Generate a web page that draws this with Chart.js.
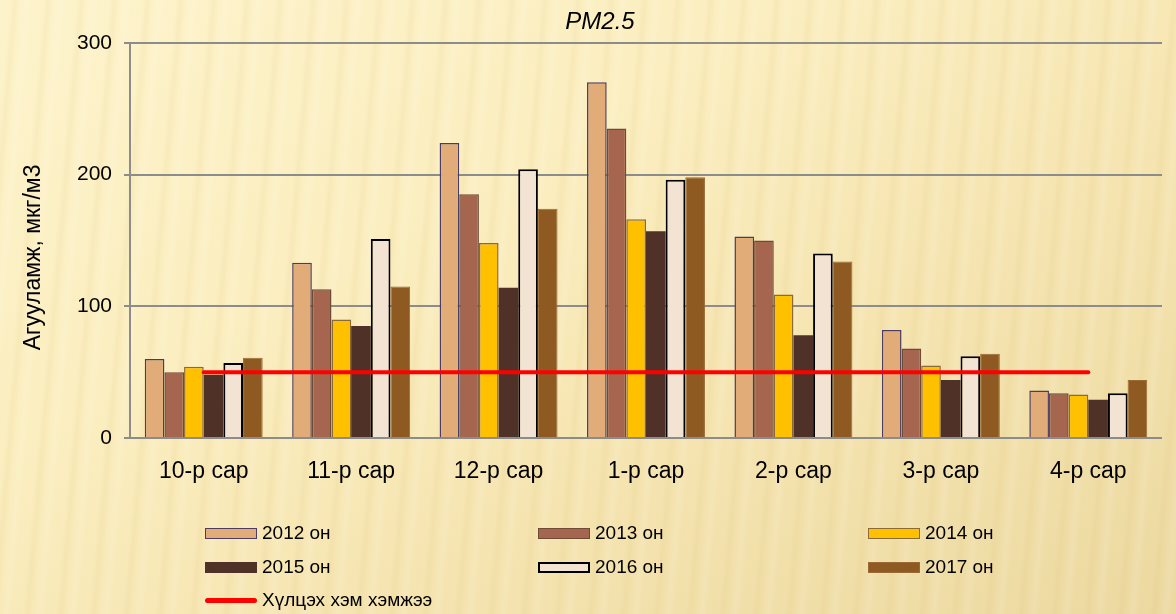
<!DOCTYPE html>
<html>
<head>
<meta charset="utf-8">
<script src="https://cdn.jsdelivr.net/npm/chart.js@4/dist/chart.umd.min.js"></script>
<style>
  html, body { margin: 0; padding: 0; }
  body {
    width: 1176px; height: 614px; overflow: hidden; position: relative;
    font-family: "Liberation Sans", Arial, sans-serif;
    background:
      repeating-linear-gradient(95deg, rgba(255,255,255,0) 0px, rgba(255,255,255,0) 10px, rgba(214,180,100,0.10) 15px, rgba(255,255,255,0) 21px, rgba(255,255,255,0.12) 27px, rgba(255,255,255,0) 33px),
      linear-gradient(150deg, #FDF3CB 0%, #FBEEC0 35%, #F5E4B0 65%, #ECD9A1 100%);
  }
  #wrap { position: absolute; left: 0; top: 0; width: 1176px; height: 614px; }
  #legend { position: absolute; left: 0; top: 0; width: 1176px; height: 614px; pointer-events: none; }
  .item { position: absolute; display: flex; align-items: center; height: 24px; font-size: 19px; color: #000; white-space: nowrap; }
  .sw { width: 52px; height: 11px; box-sizing: border-box; margin-right: 5px; }
  .ln { width: 52px; height: 5px; border-radius: 3px; margin-right: 5px; }
</style>
</head>
<body>
<div id="wrap"><canvas id="c" width="1176" height="614"></canvas></div>
<div id="legend"></div>
<script>
// Monthly PM2.5 concentration by season year, with the permitted limit
const months = ['10-р сар', '11-р сар', '12-р сар', '1-р сар', '2-р сар', '3-р сар', '4-р сар'];
const yearNames = ['2012 он', '2013 он', '2014 он', '2015 он', '2016 он', '2017 он'];
const y2012 = [60, 133, 224, 270, 153, 82, 36];
const y2013 = [50, 113, 185, 235, 150, 68, 34];
const y2014 = [54, 90, 148, 166, 109, 55, 33];
const y2015 = [48, 85, 114, 157, 78, 44, 29];
const y2016 = [57, 151, 204, 196, 140, 62, 34];
const y2017 = [61, 115, 174, 198, 134, 64, 44];
const limitName = 'Хүлцэх хэм хэмжээ';
const limitValues = [50, 50, 50, 50, 50, 50, 50];
const yTicks = [0, 100, 200, 300];

const fills = ['#E2AC78', '#A5654F', '#FFC000', '#4F3127', '#F3E3D3', '#8E5A22'];
const edges = ['#4A3C62', '#6E4B36', '#8A6A38', '#4F3127', '#000000', '#9A6A34'];
const edgeWidths = [1.5, 1.5, 1.5, 0, 2, 1];
const series = [y2012, y2013, y2014, y2015, y2016, y2017];

const datasets = series.map((vals, i) => ({
  type: 'bar',
  label: yearNames[i],
  data: vals,
  backgroundColor: fills[i],
  borderColor: edges[i],
  borderWidth: edgeWidths[i],
  categoryPercentage: 0.8,
  barPercentage: 1.0,
  order: 1
}));
datasets.push({
  type: 'line',
  label: limitName,
  data: limitValues,
  borderColor: '#FF0000',
  borderWidth: 4,
  borderCapStyle: 'round',
  pointRadius: 0,
  fill: false,
  order: 0
});

const font = '"Liberation Sans", Arial, sans-serif';

// Rotated value-axis caption
const axisCaption = {
  id: 'axisCaption',
  afterDraw(chart) {
    const { ctx, chartArea } = chart;
    ctx.save();
    ctx.translate(34, (chartArea.top + chartArea.bottom) / 2 + 17);
    ctx.rotate(-Math.PI / 2);
    ctx.font = '23px ' + font;
    ctx.fillStyle = '#000';
    ctx.textAlign = 'center';
    ctx.textBaseline = 'middle';
    ctx.fillText('Агууламж, мкг/м3', 0, 0);
    ctx.restore();
  }
};

const chart = new Chart(document.getElementById('c'), {
  data: { labels: months, datasets },
  options: {
    responsive: false,
    animation: false,
    layout: { padding: { left: 38, right: 14, top: 0, bottom: 116 } },
    plugins: {
      legend: { display: false },
      tooltip: { enabled: false },
      title: {
        display: true,
        text: 'PM2.5',
        color: '#000',
        font: { family: font, size: 24, style: 'italic', weight: 'normal', lineHeight: 1.2 },
        padding: { top: 8, bottom: 6 }
      }
    },
    scales: {
      x: {
        offset: true,
        grid: { display: false },
        border: { display: false },
        ticks: { color: '#000', font: { family: font, size: 23 }, padding: 12, maxRotation: 0 },
        afterFit(scale) { scale.height = 60; }
      },
      y: {
        min: 0,
        max: 300,
        afterBuildTicks(scale) { scale.ticks = yTicks.map(v => ({ value: v })); },
        grid: { color: '#8C8C8C', lineWidth: 2, tickLength: 6, drawTicks: true },
        border: { display: true, color: '#8C8C8C', width: 2 },
        ticks: { color: '#000', font: { family: font, size: 21 }, padding: 12 },
        afterFit(scale) { scale.width = 92; }
      }
    }
  },
  plugins: [axisCaption]
});

// Legend laid out in three columns beneath the plot
const legendEl = document.getElementById('legend');
const colX = [205, 538, 868];
const rowY = [521, 555, 588];
chart.data.datasets.forEach((ds, i) => {
  const item = document.createElement('div');
  item.className = 'item';
  item.style.left = colX[i % 3] + 'px';
  item.style.top = rowY[Math.floor(i / 3)] + 'px';
  const sw = document.createElement('div');
  if (ds.type === 'line') {
    sw.className = 'ln';
    sw.style.background = ds.borderColor;
  } else {
    sw.className = 'sw';
    sw.style.background = ds.backgroundColor;
    sw.style.border = (ds.borderWidth ? Math.max(1.5, ds.borderWidth) : 0) + 'px solid ' + ds.borderColor;
  }
  const tx = document.createElement('span');
  tx.textContent = ds.label;
  item.appendChild(sw);
  item.appendChild(tx);
  legendEl.appendChild(item);
});
</script>
</body>
</html>
